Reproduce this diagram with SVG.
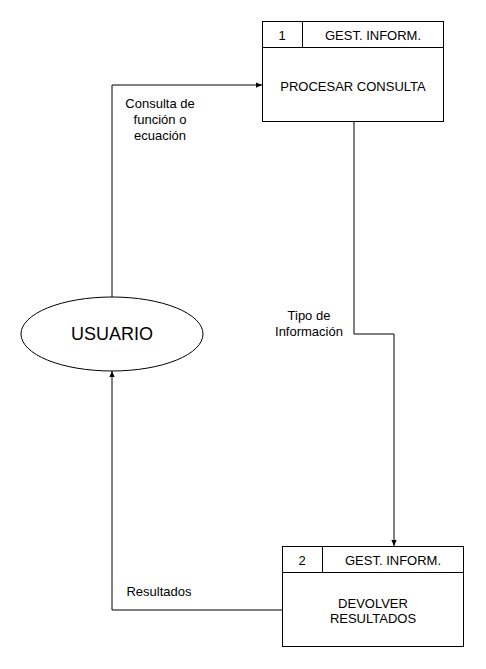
<svg xmlns="http://www.w3.org/2000/svg" width="486" height="669" viewBox="0 0 486 669">
<style>
.s{fill:#fff;stroke:#000;stroke-width:1}
.c{fill:none;stroke:#000;stroke-width:1}
text{font-family:"Liberation Sans",Arial,sans-serif;font-size:13px;fill:#000;text-anchor:middle;dominant-baseline:central}
.big{font-size:18px}
</style>
<defs>
<marker id="a" viewBox="0 0 8 8" refX="8" refY="4" markerWidth="6" markerHeight="6" markerUnits="userSpaceOnUse" orient="auto">
<path d="M0,0.5 L8,4 L0,7.5 Z" fill="#000"/>
</marker>
</defs>
<rect width="486" height="669" fill="#fff"/>
<g id="connectors">
<path class="c" d="M112,297 V85 H262" marker-end="url(#a)"/>
<path class="c" d="M354,121 V334 H394 V546" marker-end="url(#a)"/>
<path class="c" d="M282,610 H112 V371" marker-end="url(#a)"/>
<text x="160" y="103">Consulta de</text>
<text x="160" y="119">función o</text>
<text x="160" y="135">ecuación</text>
<text x="309" y="315">Tipo de</text>
<text x="309" y="331">Información</text>
<text x="159" y="591">Resultados</text>
</g>
<g id="usuario">
<ellipse class="s" cx="112" cy="334" rx="91" ry="37"/>
<text class="big" x="112" y="334">USUARIO</text>
</g>
<g id="proc1">
<rect class="s" x="262.5" y="21.5" width="181" height="100"/>
<path class="c" d="M262.5,47.5 H443.5 M302.5,21.5 V47.5"/>
<text x="282" y="35">1</text>
<text x="373" y="35">GEST. INFORM.</text>
<text x="353" y="86">PROCESAR CONSULTA</text>
</g>
<g id="proc2">
<rect class="s" x="282.5" y="546.5" width="181" height="100"/>
<path class="c" d="M282.5,572.5 H463.5 M322.5,546.5 V572.5"/>
<text x="302" y="560">2</text>
<text x="393" y="560">GEST. INFORM.</text>
<text x="373" y="603">DEVOLVER</text>
<text x="373" y="618">RESULTADOS</text>
</g>
</svg>
